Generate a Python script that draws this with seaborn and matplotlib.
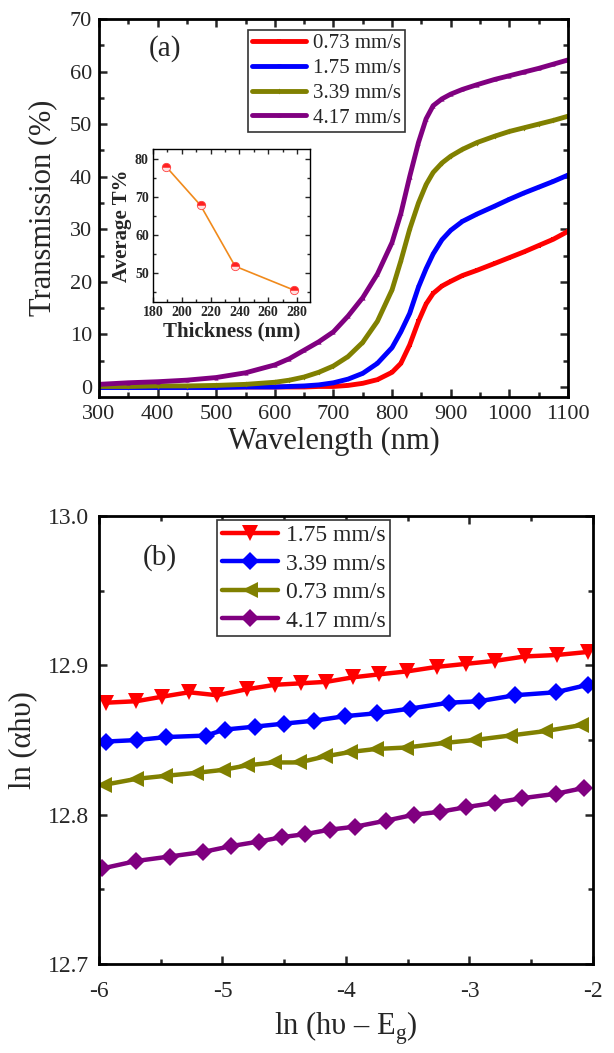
import numpy as np
import pandas as pd
import matplotlib
matplotlib.use('Agg')
import matplotlib.pyplot as plt
import seaborn as sns
from matplotlib.ticker import AutoMinorLocator, MultipleLocator, FormatStrFormatter

# ---- panel (a): transmission spectra ----
wl = [300, 350, 400, 450, 500, 550, 600, 625, 650, 675, 700, 725, 750, 775, 800,
      815, 830, 845, 858, 870, 885, 900, 920, 945, 975, 1000, 1025, 1050, 1075, 1100]
t_073 = [0.0, 0.0, 0.0, 0.0, 0.0, 0.0, 0.0, 0.0, 0.0, 0.1, 0.1, 0.3, 0.7, 1.4, 2.8,
         4.5, 8.0, 12.5, 15.8, 17.8, 19.2, 20.1, 21.2, 22.2, 23.5, 24.6, 25.7, 26.9, 28.1, 29.6]
t_175 = [-0.1, -0.1, -0.1, -0.1, -0.1, 0.0, 0.0, 0.1, 0.2, 0.4, 0.8, 1.5, 2.6, 4.5, 7.5,
         10.5, 14.0, 19.0, 22.5, 25.3, 28.0, 29.8, 31.5, 32.9, 34.4, 35.7, 36.9, 38.0, 39.1, 40.3]
t_339 = [0.1, 0.1, 0.2, 0.2, 0.3, 0.5, 0.9, 1.3, 1.9, 2.8, 4.0, 5.8, 8.5, 12.5, 18.5,
         24.0, 30.0, 35.0, 38.5, 40.8, 42.6, 43.9, 45.2, 46.5, 47.7, 48.6, 49.3, 50.0, 50.7, 51.5]
t_417 = [0.5, 0.8, 1.0, 1.3, 1.8, 2.7, 4.2, 5.4, 7.0, 8.6, 10.5, 13.5, 17.0, 21.5, 27.5,
         33.0, 40.0, 46.5, 51.0, 53.5, 54.8, 55.7, 56.6, 57.5, 58.5, 59.2, 59.9, 60.6, 61.4, 62.2]

# inset
thickness = [189, 213, 237, 278]
avg_t = [78.0, 67.8, 51.8, 45.5]

# ---- panel (b): ln(alpha h nu) vs ln(h nu - Eg) ----
x_175 = [-5.945, -5.698, -5.491, -5.271, -5.043, -4.804, -4.576, -4.364, -4.158,
         -3.944, -3.732, -3.504, -3.265, -3.031, -2.797, -2.550, -2.289, -2.041]
y_175 = [12.875, 12.876, 12.879, 12.882, 12.880, 12.884, 12.887, 12.888, 12.889,
         12.892, 12.894, 12.896, 12.899, 12.901, 12.903, 12.906, 12.907, 12.909]
x_339 = [-5.945, -5.692, -5.456, -5.134, -4.983, -4.736, -4.502, -4.255, -4.007,
         -3.746, -3.485, -3.169, -2.921, -2.632, -2.302, -2.041]
y_339 = [12.849, 12.850, 12.852, 12.853, 12.857, 12.859, 12.861, 12.863, 12.866,
         12.868, 12.871, 12.875, 12.876, 12.880, 12.882, 12.887]
x_073 = [-5.959, -5.698, -5.464, -5.216, -4.997, -4.804, -4.584, -4.378, -4.172,
         -3.966, -3.759, -3.512, -3.210, -2.962, -2.674, -2.385, -2.096]
y_073 = [12.820, 12.824, 12.826, 12.828, 12.830, 12.833, 12.835, 12.835, 12.839,
         12.842, 12.844, 12.845, 12.848, 12.850, 12.853, 12.856, 12.860]
x_417 = [-5.973, -5.698, -5.428, -5.161, -4.928, -4.708, -4.515, -4.329, -4.131,
         -3.924, -3.677, -3.449, -3.237, -3.031, -2.797, -2.577, -2.302, -2.069]
y_417 = [12.764, 12.769, 12.772, 12.775, 12.779, 12.782, 12.785, 12.787, 12.790,
         12.792, 12.796, 12.800, 12.802, 12.805, 12.808, 12.811, 12.814, 12.818]

sns.set_style('ticks')
plt.rcParams['font.family'] = ['Liberation Serif', 'DejaVu Serif']
plt.rcParams['mathtext.fontset'] = 'custom'
plt.rcParams['mathtext.rm'] = 'Liberation Serif'
plt.rcParams['axes.unicode_minus'] = False
plt.rcParams['axes.linewidth'] = 2

RED, BLUE, OLIVE, PURPLE = '#ff0000', '#0000ff', '#808000', '#800080'

fig = plt.figure(figsize=(6.14, 10.53), dpi=100)
ax1 = fig.add_axes([0.1612, 0.623, 0.7638, 0.359])
ax2 = fig.add_axes([0.1612, 0.0845, 0.8046, 0.4254])
axin = fig.add_axes([0.2492, 0.7132, 0.2557, 0.1453])

def style_ticks(ax, size, major=6, minor=3.5, width=1.8, xpad=6, ypad=5):
    ax.tick_params(which='major', length=major, width=width, labelsize=size, direction='in',
                   top=True, right=True)
    ax.tick_params(which='minor', length=minor, width=width, direction='in', top=True, right=True)
    ax.tick_params(axis='x', pad=xpad)
    ax.tick_params(axis='y', pad=ypad)
    ax.xaxis.set_minor_locator(AutoMinorLocator(2))
    ax.yaxis.set_minor_locator(AutoMinorLocator(2))
    for s in ax.spines.values():
        s.set_visible(True)
        s.set_linewidth(2)
        s.set_color('black')

# (a)
for vals, c, m, lab in [(t_073, RED, 's', '0.73 mm/s'), (t_175, BLUE, 'v', '1.75 mm/s'),
                        (t_339, OLIVE, 'd', '3.39 mm/s'), (t_417, PURPLE, '^', '4.17 mm/s')]:
    sns.lineplot(x=wl, y=vals, ax=ax1, color=c, marker=m, markersize=3, markeredgewidth=0,
                 linewidth=3.5, label=lab)
ax1.set_xlim(300, 1100)
ax1.set_ylim(-1.9, 70)
ax1.xaxis.set_major_locator(MultipleLocator(100))
ax1.yaxis.set_major_locator(MultipleLocator(10))
style_ticks(ax1, 16)
ax1.set_xlabel('Wavelength (nm)', fontsize=22, labelpad=2)
ax1.set_ylabel('Transmission (%)', fontsize=22, labelpad=9)
ax1.text(0.141, 0.923, '(a)', transform=ax1.transAxes, fontsize=21, ha='center', va='center')
leg = ax1.legend(loc='upper left', bbox_to_anchor=(0.318, 0.972), borderaxespad=0, fontsize=15,
                 frameon=True, fancybox=False, edgecolor='#333333', framealpha=1,
                 handlelength=2.6, labelspacing=0.25, borderpad=0.2, handletextpad=0.3)
leg.get_frame().set_linewidth(1.2)

# inset
sns.lineplot(x=thickness, y=avg_t, ax=axin, color='#f08a1c', linewidth=1.2, marker='o',
             markersize=6, fillstyle='top', markerfacecolor='#ff2020',
             markerfacecoloralt='#ffe0e0', markeredgecolor='#ff4040', markeredgewidth=0.6)
axin.set_xlim(180, 289)
axin.set_ylim(42.4, 82.6)
axin.xaxis.set_major_locator(MultipleLocator(20))
axin.yaxis.set_major_locator(MultipleLocator(10))
style_ticks(axin, 10, major=3.5, minor=2, width=1, xpad=3, ypad=3)
for s in axin.spines.values():
    s.set_linewidth(1)
for lab in axin.get_xticklabels() + axin.get_yticklabels():
    lab.set_fontweight('bold')
axin.set_xlabel('Thickness (nm)', fontsize=15, fontweight='bold', labelpad=2)
axin.set_ylabel('Average T%', fontsize=15, fontweight='bold', labelpad=2)

# (b)
for xs, ys, c, m, ms, lab in [(x_175, y_175, RED, 'v', 11, '1.75 mm/s'),
                              (x_339, y_339, BLUE, 'D', 9, '3.39 mm/s'),
                              (x_073, y_073, OLIVE, '<', 11, '0.73 mm/s'),
                              (x_417, y_417, PURPLE, 'D', 9, '4.17 mm/s')]:
    sns.lineplot(x=xs, y=ys, ax=ax2, color=c, marker=m, markersize=ms, markeredgewidth=0,
                 linewidth=3.2, label=lab)
ax2.set_xlim(-6, -2)
ax2.set_ylim(12.7, 13.0)
ax2.xaxis.set_major_locator(MultipleLocator(1))
ax2.yaxis.set_major_locator(MultipleLocator(0.1))
ax2.yaxis.set_major_formatter(FormatStrFormatter('%.1f'))
style_ticks(ax2, 17, xpad=12, ypad=7)
ax2.set_xlabel('ln (h\u03c5 \u2013 E$_\\mathregular{g}$)', fontsize=22, labelpad=6)
ax2.set_ylabel('ln (\u03b1h\u03c5)', fontsize=22, labelpad=8)
ax2.text(0.123, 0.908, '(b)', transform=ax2.transAxes, fontsize=21, ha='center', va='center')
leg2 = ax2.legend(loc='upper left', bbox_to_anchor=(0.239, 0.992), borderaxespad=0, fontsize=17,
                  frameon=True, fancybox=False, edgecolor='#333333', framealpha=1,
                  handlelength=2.4, labelspacing=0.3, borderpad=0.2, handletextpad=0.3)
leg2.get_frame().set_linewidth(1.2)

fig.savefig('out.png', dpi=100)
